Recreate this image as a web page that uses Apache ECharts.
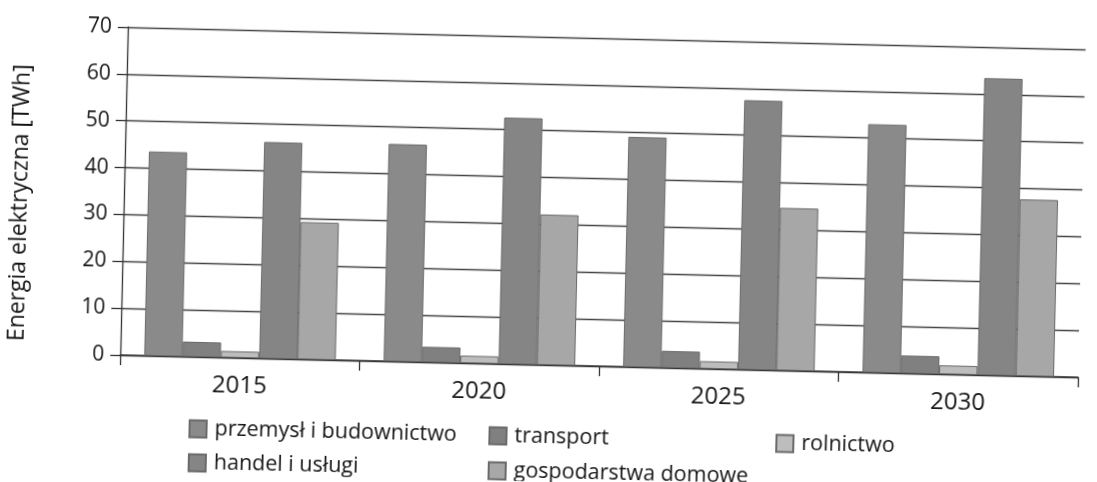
<!DOCTYPE html>
<html>
<head>
<meta charset="utf-8">
<script src="https://cdn.jsdelivr.net/npm/echarts@6/dist/echarts.min.js"></script>
<style>
html,body{margin:0;padding:0;background:#fff;overflow:hidden;}
#wykres{width:1097px;height:482px;transform:rotate(1.33deg);transform-origin:50% 50%;}
</style>
</head>
<body>
<div id="wykres"></div>
<script>
// lata i dane (TWh)
var lata = ['2015', '2020', '2025', '2030'];
var przemysl = [43.6, 46.4, 49.1, 53.0];
var transport = [3.2, 3.3, 3.6, 3.8];
var rolnictwo = [1.4, 1.6, 1.6, 1.9];
var handel = [46.2, 52.6, 57.5, 63.4];
var gospodarstwa = [29.3, 32.1, 34.7, 37.7];

var nazwy = ['przemysł i budownictwo', 'transport', 'rolnictwo', 'handel i usługi', 'gospodarstwa domowe'];
var kolory = ['#8a8a8a', '#808080', '#bdbdbd', '#858585', '#a7a7a7'];
var dane = [przemysl, transport, rolnictwo, handel, gospodarstwa];

var czcionka = '"Open Sans", sans-serif';

function legenda(nazwa, left, top){
    return {
        data: [nazwa],
        left: left,
        top: top,
        itemWidth: 17,
        itemHeight: 17,
        icon: 'rect',
        selectedMode: false,
        textStyle: {fontFamily: czcionka, fontSize: 21.5, color: '#151515', padding: [0, 0, 0, 3]}
    };
}

var serie = [];
for (var i = 0; i < nazwy.length; i++) {
    serie.push({
        name: nazwy[i],
        type: 'bar',
        data: dane[i],
        barGap: '0%',
        barCategoryGap: '20%',
        itemStyle: {color: kolory[i], borderColor: '#6a6a6a', borderWidth: 1}
    });
}

var mychart = echarts.init(document.getElementById('wykres'));
mychart.setOption({
    animation: false,
    grid: {left: 115, right: 16, top: 37, bottom: 117},
    legend: [
        legenda('przemysł i budownictwo', 188, 421),
        legenda('handel i usługi', 188, 455),
        legenda('transport', 488, 421),
        legenda('gospodarstwa domowe', 488, 456),
        legenda('rolnictwo', 775, 422)
    ],
    xAxis: {
        type: 'category',
        data: lata,
        axisLine: {lineStyle: {color: '#333', width: 1.5}},
        axisTick: {show: true, length: 10, lineStyle: {color: '#333', width: 1.3}},
        axisLabel: {fontFamily: czcionka, fontSize: 24, color: '#151515', margin: 16}
    },
    yAxis: {
        type: 'value',
        min: 0,
        max: 70,
        interval: 10,
        name: 'Energia elektryczna [TWh]',
        nameLocation: 'middle',
        nameGap: 92,
        nameTextStyle: {fontFamily: czcionka, fontSize: 23, color: '#151515', padding: [0, 28, 0, 0]},
        axisLine: {show: true, lineStyle: {color: '#333', width: 1.3}},
        axisTick: {show: true, length: 10, lineStyle: {color: '#333', width: 1.3}},
        axisLabel: {fontFamily: czcionka, fontSize: 21, color: '#151515', margin: 16},
        splitLine: {lineStyle: {color: '#444', width: 1.4}}
    },
    series: serie
});
</script>
</body>
</html>
